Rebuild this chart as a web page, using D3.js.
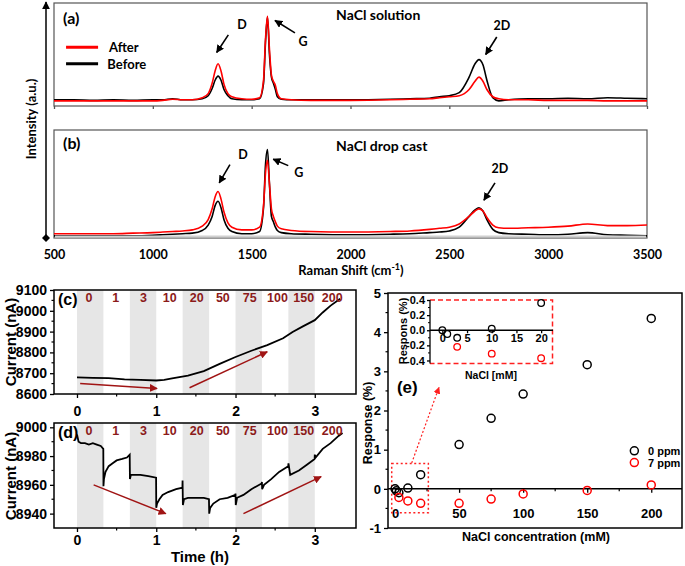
<!DOCTYPE html>
<html><head><meta charset="utf-8">
<script src="https://cdn.jsdelivr.net/npm/d3@7"></script>
<style>body{margin:0;background:#fff} svg{display:block}</style>
</head><body>
<svg id="chart" width="685" height="566"></svg>
<script>
// ---------- DATA ----------
const ramanShift = [500,600,700,800,900,1000,1050,1100,1150,1200,1250,1280,1300,1315,1330,1345,1360,1380,1400,1450,1500,1540,1560,1570,1580,1590,1600,1610,1620,1630,1650,1700,1800,2000,2200,2300,2400,2450,2500,2550,2600,2630,2650,2670,2690,2720,2750,2800,2900,3000,3100,3200,3300,3400,3500];
const solutionAfter  = [0.05,0.05,0.05,0.05,0.05,0.05,0.055,0.065,0.06,0.06,0.08,0.12,0.22,0.34,0.41,0.34,0.21,0.12,0.09,0.07,0.065,0.08,0.25,0.65,0.87,0.55,0.30,0.24,0.20,0.12,0.07,0.06,0.055,0.055,0.06,0.065,0.07,0.08,0.09,0.10,0.16,0.24,0.28,0.24,0.16,0.09,0.07,0.06,0.06,0.055,0.055,0.055,0.05,0.05,0.05];
const solutionBefore = [0.06,0.06,0.055,0.06,0.055,0.06,0.06,0.07,0.06,0.06,0.07,0.10,0.17,0.25,0.29,0.25,0.16,0.10,0.07,0.06,0.06,0.07,0.22,0.62,0.86,0.50,0.28,0.22,0.16,0.09,0.065,0.06,0.06,0.06,0.065,0.07,0.075,0.09,0.10,0.13,0.28,0.41,0.45,0.40,0.25,0.08,0.05,0.06,0.07,0.07,0.075,0.07,0.08,0.075,0.07];
const dropAfter  = [0.04,0.04,0.04,0.04,0.045,0.05,0.055,0.06,0.065,0.075,0.11,0.17,0.27,0.38,0.43,0.36,0.24,0.14,0.10,0.075,0.075,0.10,0.30,0.60,0.72,0.50,0.27,0.20,0.15,0.11,0.085,0.07,0.06,0.055,0.06,0.065,0.08,0.09,0.10,0.13,0.20,0.25,0.27,0.25,0.19,0.12,0.095,0.09,0.095,0.10,0.11,0.13,0.115,0.115,0.12];
const dropBefore = [0.02,0.02,0.02,0.02,0.02,0.025,0.03,0.035,0.04,0.045,0.07,0.12,0.20,0.30,0.34,0.28,0.17,0.09,0.06,0.04,0.04,0.06,0.28,0.68,0.82,0.50,0.20,0.15,0.10,0.07,0.05,0.04,0.035,0.03,0.035,0.04,0.05,0.055,0.065,0.10,0.20,0.26,0.28,0.25,0.17,0.08,0.05,0.04,0.035,0.03,0.035,0.05,0.03,0.025,0.02];
const ramanTicks = [500,1000,1500,2000,2500,3000,3500];

const timeC    = [0,0.2,0.4,0.6,0.8,1.0,1.1,1.2,1.4,1.6,1.8,2.0,2.2,2.4,2.6,2.72,2.85,3.0,3.1,3.2,3.32];
const currentC = [8680,8678,8676,8670,8668,8665,8668,8675,8688,8710,8745,8778,8808,8835,8868,8898,8925,8955,8992,9025,9058];
const timeD    = [0,0.02,0.05,0.1,0.15,0.2,0.25,0.3,0.332,0.334,0.34,0.36,0.40,0.45,0.50,0.57,0.63,0.665,0.668,0.68,0.72,0.8,0.9,0.998,1.0,1.01,1.04,1.08,1.15,1.25,1.33,1.332,1.336,1.35,1.40,1.5,1.6,1.665,1.668,1.68,1.72,1.8,1.9,1.998,2.0,2.003,2.02,2.1,2.2,2.33,2.333,2.336,2.36,2.45,2.55,2.665,2.668,2.69,2.8,2.9,2.998,3.0,3.01,3.1,3.2,3.3,3.35];
const currentD = [8995,8990,8989,8989,8988,8989,8988,8987,8985,8959,8964,8969,8973,8975,8977,8978,8979,8981,8964,8967,8967,8967,8966,8965,8944,8947,8950,8953,8955,8957,8958,8963,8946,8950,8951,8951,8951,8950,8940,8944,8947,8950,8951,8953,8954,8946,8951,8953,8957,8961,8962,8957,8960,8964,8969,8973,8975,8967,8970,8974,8978,8981,8979,8985,8989,8994,8996];
const concLabels = ["0","1","3","10","20","50","75","100","150","200"];
const labelTime  = [0.15,0.49,0.84,1.17,1.51,1.84,2.18,2.53,2.86,3.22];
const bandStart  = [0,0.667,1.333,2.0,2.667];
const bandEnd    = [0.333,1.0,1.667,2.333,3.0];
const timeTicks  = [0,1,2,3];
const cTicks = [8600,8700,8800,8900,9000,9100];
const dTicks = [8940,8960,8980,9000];

const conc0 = [0,1,3,10,20,50,75,100,150,200];
const resp0 = [0,-0.05,-0.1,0.02,0.36,1.13,1.8,2.42,3.17,4.35];
const conc7 = [3,10,20,50,75,100,150,200];
const resp7 = [-0.22,-0.31,-0.37,-0.37,-0.26,-0.13,-0.04,0.1];
const eXTicks = [0,50,100,150,200];
const eYTicks = [-1,0,1,2,3,4,5];
const insetXTicks = [0,5,10,15,20];
const insetYTicks = [-0.4,-0.2,0,0.2,0.4];

// ---------- SETUP ----------
const svg = d3.select("#chart");
const defs = svg.append("defs");
function arrowMarker(id, color, w){
  defs.append("marker").attr("id",id).attr("viewBox","0 0 10 10").attr("refX",9).attr("refY",5)
    .attr("markerWidth",w).attr("markerHeight",w).attr("orient","auto").attr("markerUnits","userSpaceOnUse")
    .append("path").attr("d","M0,0 L10,5 L0,10 z").attr("fill",color);
}
arrowMarker("arrBlack","#000",8);
arrowMarker("arrRed","#a01414",8);
arrowMarker("arrRedDot","#ff2020",7);
arrowMarker("arrAxis","#000",8);
defs.append("marker").attr("id","diamond").attr("viewBox","0 0 10 10").attr("refX",5).attr("refY",5)
  .attr("markerWidth",8).attr("markerHeight",8).attr("markerUnits","userSpaceOnUse")
  .append("path").attr("d","M5,0 L10,5 L5,10 L0,5 z").attr("fill","#000");

const SANS_A = "Lato, 'Open Sans', sans-serif";
const SANS = "'Liberation Sans', Arial, sans-serif";
const fmtInt = d => String(d);
const fmt1 = d => d.toFixed(1);

function styleAxis(g, size, fam){
  g.attr("font-family",fam);
  g.select(".domain").remove();
  g.selectAll("line").attr("stroke","#000").attr("stroke-width",1.3);
  g.selectAll("text").attr("font-size",size).attr("font-weight","bold").attr("font-family",fam).attr("fill","#000");
}
function txt(x,y,s,opt={}){
  return svg.append("text").attr("x",x).attr("y",y).text(s)
    .attr("font-family",opt.fam||SANS).attr("font-size",opt.size||13).attr("font-weight","bold")
    .attr("fill",opt.fill||"#000").attr("text-anchor",opt.anchor||"start").attr("dominant-baseline","central");
}

// ---------- SPECTRA (a) & (b) ----------
const xR = d3.scaleLinear().domain([500,3500]).range([54,647]);
const yA = d3.scaleLinear().domain([0,1]).range([106,3]);
const yB = d3.scaleLinear().domain([0,1]).range([238,130]);

svg.append("line").attr("x1",46).attr("x2",46).attr("y1",238).attr("y2",2)
  .attr("stroke","#000").attr("stroke-width",1.5).attr("marker-end","url(#arrAxis)").attr("marker-start","url(#diamond)");
svg.append("text").attr("transform","translate(31,119) rotate(-90)").attr("text-anchor","middle")
  .attr("dominant-baseline","central").attr("font-family",SANS_A).attr("font-weight","bold").attr("font-size",13).text("Intensity (a.u.)");

function specPanel(yS, top, bottom, after, before, label, title, annot){
  svg.append("rect").attr("x",54).attr("y",top).attr("width",593).attr("height",bottom-top)
    .attr("fill","none").attr("stroke","#555").attr("stroke-width",1.2);
  const line = d3.line().x((d,i)=>xR(ramanShift[i])).y(d=>yS(d)).curve(d3.curveMonotoneX);
  svg.append("path").datum(before).attr("d",line).attr("fill","none").attr("stroke","#000").attr("stroke-width",1.6);
  svg.append("path").datum(after).attr("d",line).attr("fill","none").attr("stroke","#ff0000").attr("stroke-width",1.6);
  txt(xR(546), yS(label[1]), label[0], {fam:SANS_A,size:16});
  txt(xR(1927), yS(title[1]), title[0], {fam:SANS_A,size:14});
  annot.forEach(a=>{
    txt(xR(a.tx), yS(a.ty), a.t, {fam:SANS_A,size:12.5,anchor:"middle"});
    svg.append("line").attr("x1",xR(a.x1)).attr("y1",yS(a.y1)).attr("x2",xR(a.x2)).attr("y2",yS(a.y2))
      .attr("stroke","#000").attr("stroke-width",1.6).attr("marker-end","url(#arrBlack)");
  });
}
specPanel(yA, 3, 106, solutionAfter, solutionBefore, ["(a)",0.86], ["NaCl solution",0.89], [
  {t:"D",tx:1451,ty:0.79,x1:1382,y1:0.69,x2:1323,y2:0.52},
  {t:"G",tx:1760,ty:0.63,x1:1719,y1:0.71,x2:1618,y2:0.83},
  {t:"2D",tx:2766,ty:0.78,x1:2740,y1:0.67,x2:2684,y2:0.50}]);
specPanel(yB, 130, 238, dropAfter, dropBefore, ["(b)",0.88], ["NaCl drop cast",0.86], [
  {t:"D",tx:1456,ty:0.77,x1:1390,y1:0.68,x2:1336,y2:0.51},
  {t:"G",tx:1738,ty:0.61,x1:1685,y1:0.67,x2:1609,y2:0.73},
  {t:"2D",tx:2756,ty:0.64,x1:2731,y1:0.51,x2:2675,y2:0.35}]);
svg.append("line").attr("x1",xR(561)).attr("x2",xR(723)).attr("y1",yA(0.57)).attr("y2",yA(0.57)).attr("stroke","#ff0000").attr("stroke-width",3);
svg.append("line").attr("x1",xR(561)).attr("x2",xR(723)).attr("y1",yA(0.41)).attr("y2",yA(0.41)).attr("stroke","#000").attr("stroke-width",3);
txt(xR(778), yA(0.57), "After", {fam:SANS_A,size:13});
txt(xR(770), yA(0.41), "Before", {fam:SANS_A,size:13});
const axA = svg.append("g").attr("transform","translate(0,106)").call(d3.axisBottom(xR).tickValues(ramanTicks).tickSize(3).tickFormat(""));
styleAxis(axA,12,SANS_A); axA.selectAll("line").attr("stroke","#555");
svg.append("line").attr("x1",55).attr("x2",646).attr("y1",236.5).attr("y2",236.5).attr("stroke","#d0d0d0").attr("stroke-width",2);
const axB = svg.append("g").attr("transform","translate(0,238)").call(d3.axisBottom(xR).tickValues(ramanTicks).tickSize(0).tickPadding(12).tickFormat(fmtInt));
styleAxis(axB,12.5,SANS_A);
const rs = svg.append("text").attr("x",351).attr("y",275).attr("text-anchor","middle")
  .attr("font-family",SANS_A).attr("font-weight","bold").attr("font-size",13);
rs.append("tspan").text("Raman Shift (cm");
rs.append("tspan").text("-1").attr("font-size",9).attr("dy",-5);
rs.append("tspan").text(")").attr("dy",5);

// ---------- CURRENT (c) & (d) ----------
const xT = d3.scaleLinear().domain([-0.29,3.52]).range([54,356]);
const yC = d3.scaleLinear().domain([8600,9100]).range([394,290]);
const yD = d3.scaleLinear().domain([8930,9003]).range([528,423]);

function currentPanel(yS, top, bottom, times, vals, ticks, minorStep, label, arrows, xLabelOffset){
  bandStart.forEach((b,i)=>{
    svg.append("rect").attr("x",xT(b)).attr("y",top).attr("width",xT(bandEnd[i])-xT(b)).attr("height",bottom-top).attr("fill","#e6e6e6");
  });
  const line = d3.line().x((d,i)=>xT(times[i])).y(d=>yS(d));
  svg.append("path").datum(vals).attr("d",line).attr("fill","none").attr("stroke","#000").attr("stroke-width",1.8);
  concLabels.forEach((c,i)=>txt(xT(labelTime[i]), top+8, c, {size:12.5, fill:"#8b1a1a", anchor:"middle"}));
  txt(58, top+9, label, {size:16});
  arrows.forEach(a=>{
    svg.append("line").attr("x1",xT(a[0])).attr("y1",yS(a[1])).attr("x2",xT(a[2])).attr("y2",yS(a[3]))
      .attr("stroke","#a01414").attr("stroke-width",1.5).attr("marker-end","url(#arrRed)");
  });
  svg.append("rect").attr("x",54).attr("y",top).attr("width",302).attr("height",bottom-top)
    .attr("fill","none").attr("stroke","#000").attr("stroke-width",1.5);
  const ly = svg.append("g").attr("transform","translate(54,0)").call(d3.axisLeft(yS).tickValues(ticks).tickSize(4).tickPadding(3).tickFormat(fmtInt));
  styleAxis(ly,14,SANS);
  const minorY = d3.range(yS.domain()[0], yS.domain()[1], minorStep).filter(v=>!ticks.includes(v) && v>yS.domain()[0]);
  svg.append("g").selectAll("line").data(minorY).join("line").attr("x1",54).attr("x2",51.5)
    .attr("y1",d=>yS(d)).attr("y2",d=>yS(d)).attr("stroke","#000").attr("stroke-width",1.2);
  const lx = svg.append("g").attr("transform",`translate(0,${bottom})`).call(d3.axisBottom(xT).tickValues(timeTicks).tickSize(4).tickPadding(xLabelOffset).tickFormat(fmtInt));
  styleAxis(lx,14,SANS);
  svg.append("g").selectAll("line").data([0.5,1.5,2.5]).join("line").attr("y1",bottom).attr("y2",bottom+2.5)
    .attr("x1",d=>xT(d)).attr("x2",d=>xT(d)).attr("stroke","#000").attr("stroke-width",1.2);
}
currentPanel(yC, 290, 394, timeC, currentC, cTicks, 50, "(c)", [[0.04,8651,1.01,8627],[1.42,8630,2.40,8803]], 8);
currentPanel(yD, 423, 528, timeD, currentD, dTicks, 10, "(d)", [[0.21,8960,1.12,8940],[2.10,8940,3.08,8965.7]], 3);
svg.append("text").attr("transform","translate(10,342) rotate(-90)").attr("text-anchor","middle").attr("dominant-baseline","central")
  .attr("font-family",SANS).attr("font-weight","bold").attr("font-size",15).text("Current (nA)");
svg.append("text").attr("transform","translate(10,476) rotate(-90)").attr("text-anchor","middle").attr("dominant-baseline","central")
  .attr("font-family",SANS).attr("font-weight","bold").attr("font-size",15).text("Current (nA)");
txt(200, 556, "Time (h)", {size:15, anchor:"middle"});

// ---------- RESPONSE (e) ----------
const xE = d3.scaleLinear().domain([-5.5,224]).range([388,682]);
const yE = d3.scaleLinear().domain([-1,5]).range([528,293]);
svg.append("rect").attr("x",388).attr("y",293).attr("width",294).attr("height",235)
  .attr("fill","none").attr("stroke","#000").attr("stroke-width",1.5);
const eyAx = svg.append("g").attr("transform","translate(388,0)").call(d3.axisLeft(yE).tickValues(eYTicks).tickSize(4).tickPadding(3).tickFormat(fmtInt));
styleAxis(eyAx,13,SANS);
svg.append("g").selectAll("line").data([-0.5,0.5,1.5,2.5,3.5,4.5]).join("line").attr("x1",388).attr("x2",385.5)
  .attr("y1",d=>yE(d)).attr("y2",d=>yE(d)).attr("stroke","#000").attr("stroke-width",1.2);
svg.append("line").attr("x1",388).attr("x2",682).attr("y1",yE(0)).attr("y2",yE(0)).attr("stroke","#000").attr("stroke-width",1.5);
const exAx = svg.append("g").attr("transform",`translate(0,${yE(0)})`).call(d3.axisBottom(xE).tickValues(eXTicks).tickSize(4).tickPadding(16).tickFormat(fmtInt));
styleAxis(exAx,13,SANS);
svg.append("g").selectAll("line").data([25,75,125,175]).join("line").attr("y1",yE(0)).attr("y2",yE(0)+2.5)
  .attr("x1",d=>xE(d)).attr("x2",d=>xE(d)).attr("stroke","#000").attr("stroke-width",1.2);
svg.append("text").attr("transform","translate(368,423) rotate(-90)").attr("text-anchor","middle").attr("dominant-baseline","central")
  .attr("font-family",SANS).attr("font-weight","bold").attr("font-size",12.5).text("Response (%)");
txt(536, 537, "NaCl concentration (mM)", {size:12.5, anchor:"middle"});
txt(xE(1.5), yE(2.6), "(e)", {size:17});

svg.append("rect").attr("x",xE(-2.6)).attr("y",yE(0.65)).attr("width",xE(26)-xE(-2.6)).attr("height",yE(-0.61)-yE(0.65))
  .attr("fill","none").attr("stroke","#ff2020").attr("stroke-width",1.5).attr("stroke-dasharray","2,2.5");
svg.append("line").attr("x1",xE(13)).attr("y1",yE(0.66)).attr("x2",xE(34.3)).attr("y2",yE(2.59))
  .attr("stroke","#ff2020").attr("stroke-width",1.2).attr("stroke-dasharray","2,2").attr("marker-end","url(#arrRedDot)");

svg.append("g").selectAll("circle").data(resp0).join("circle").attr("cx",(d,i)=>xE(conc0[i])).attr("cy",d=>yE(d))
  .attr("r",4).attr("fill","none").attr("stroke","#000").attr("stroke-width",1.5);
svg.append("g").selectAll("circle").data(resp7).join("circle").attr("cx",(d,i)=>xE(conc7[i])).attr("cy",d=>yE(d))
  .attr("r",4).attr("fill","none").attr("stroke","#ff0000").attr("stroke-width",1.5);
svg.append("circle").attr("cx",xE(186.8)).attr("cy",yE(0.97)).attr("r",4).attr("fill","none").attr("stroke","#000").attr("stroke-width",1.5);
svg.append("circle").attr("cx",xE(186.8)).attr("cy",yE(0.67)).attr("r",4).attr("fill","none").attr("stroke","#ff0000").attr("stroke-width",1.5);
txt(648, yE(0.97), "0 ppm", {size:11});
txt(648, yE(0.67), "7 ppm", {size:11});

const xI = d3.scaleLinear().domain([-2.5,22.4]).range([430,553]);
const yI = d3.scaleLinear().domain([-0.44,0.4]).range([363.5,300]);
svg.append("path").attr("d",`M${xI(-2.5)},${yI(0.4)} H${xI(22.3)} V${yI(-0.44)} H${xI(-2.5)}`)
  .attr("fill","none").attr("stroke","#ff2020").attr("stroke-width",1.5).attr("stroke-dasharray","5,3");
svg.append("line").attr("x1",430).attr("x2",430).attr("y1",yI(0.4)).attr("y2",yI(-0.44)).attr("stroke","#000").attr("stroke-width",1.3);
const iy = svg.append("g").attr("transform","translate(430,0)").call(d3.axisLeft(yI).tickValues(insetYTicks).tickSize(3).tickPadding(2).tickFormat(fmt1));
styleAxis(iy,11,SANS);
svg.append("g").selectAll("line").data([-0.3,-0.1,0.1,0.3]).join("line").attr("x1",430).attr("x2",428)
  .attr("y1",d=>yI(d)).attr("y2",d=>yI(d)).attr("stroke","#000").attr("stroke-width",1);
svg.append("line").attr("x1",430).attr("x2",553).attr("y1",yI(0)).attr("y2",yI(0)).attr("stroke","#000").attr("stroke-width",1.3);
const ix = svg.append("g").attr("transform",`translate(0,${yI(0)})`).call(d3.axisBottom(xI).tickValues(insetXTicks).tickSize(3).tickPadding(1).tickFormat(fmtInt));
styleAxis(ix,11,SANS);
svg.append("text").attr("transform","translate(403,331) rotate(-90)").attr("text-anchor","middle").attr("dominant-baseline","central")
  .attr("font-family",SANS).attr("font-weight","bold").attr("font-size",11).text("Respons (%)");
txt(491, 375, "NaCl [mM]", {size:10.5, anchor:"middle"});
const in0 = resp0.filter((d,i)=>conc0[i]<=20), inc0 = conc0.filter(c=>c<=20);
const in7 = resp7.filter((d,i)=>conc7[i]<=20), inc7 = conc7.filter(c=>c<=20);
svg.append("g").selectAll("circle").data(in0).join("circle").attr("cx",(d,i)=>xI(inc0[i])).attr("cy",d=>yI(d))
  .attr("r",3.3).attr("fill","none").attr("stroke","#000").attr("stroke-width",1.3);
svg.append("g").selectAll("circle").data(in7).join("circle").attr("cx",(d,i)=>xI(inc7[i])).attr("cy",d=>yI(d))
  .attr("r",3.3).attr("fill","none").attr("stroke","#ff0000").attr("stroke-width",1.3);
</script></body></html>
